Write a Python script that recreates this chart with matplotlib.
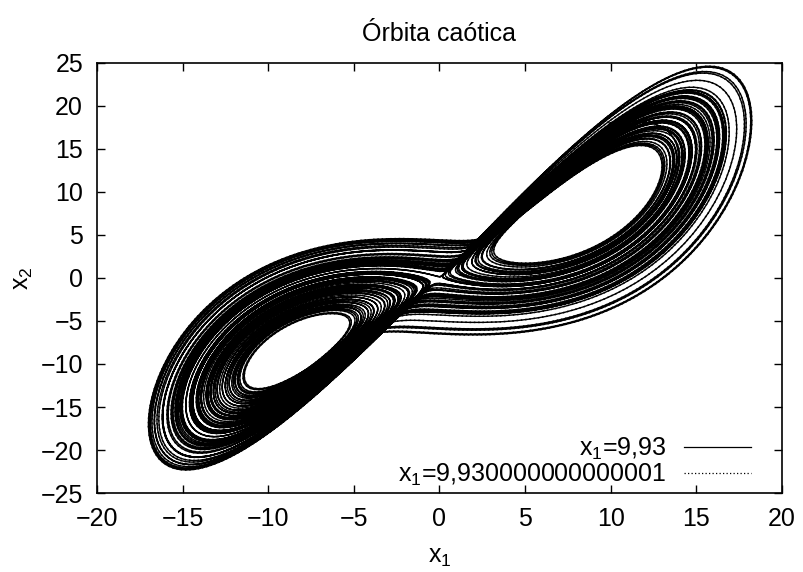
import numpy as np
import matplotlib
matplotlib.use("Agg")
import matplotlib.pyplot as plt

plt.rcParams['font.family'] = ['Liberation Sans', 'DejaVu Sans']
plt.rcParams['mathtext.fontset'] = 'custom'
plt.rcParams['mathtext.rm'] = 'Liberation Sans'
plt.rcParams['mathtext.it'] = 'Liberation Sans'

# Lorenz system parameters and initial states
sigma, rho, beta = 10.0, 28.0, 8.0 / 3.0
x1_starts = [9.93, 9.930000000000001]
x2_start, x3_start = 18.0, 24.0
legend_labels = [r'$\mathregular{x_1}$=9,93', r'$\mathregular{x_1}$=9,930000000000001']
t_end, dt = 100.0, 0.005

x_ticks = [-20, -15, -10, -5, 0, 5, 10, 15, 20]
y_ticks = [-25, -20, -15, -10, -5, 0, 5, 10, 15, 20, 25]


def lorenz(s):
    x, y, z = s
    return np.array([sigma * (y - x), x * (rho - z) - y, x * y - beta * z])


def integrate(s0):
    n = int(round(t_end / dt))
    out = np.empty((n + 1, 3))
    s = np.array(s0, dtype=float)
    out[0] = s
    for i in range(n):
        k1 = lorenz(s)
        k2 = lorenz(s + 0.5 * dt * k1)
        k3 = lorenz(s + 0.5 * dt * k2)
        k4 = lorenz(s + dt * k3)
        s = s + dt / 6.0 * (k1 + 2 * k2 + 2 * k3 + k4)
        out[i + 1] = s
    return out


fig = plt.figure(figsize=(8.04, 5.72), dpi=100)
ax = fig.add_axes([0.1206, 0.1381, 0.8520, 0.7518])

styles = ['-', (0, (1.0, 1.8))]
widths = [1.0, 1.1]
for x1, ls, lw, lab in zip(x1_starts, styles, widths, legend_labels):
    traj = integrate([x1, x2_start, x3_start])
    ax.plot(traj[:, 0], traj[:, 1], color='black', lw=lw, ls=ls, label=lab)

ax.set_xlim(-20, 20)
ax.set_ylim(-25, 25)
ax.set_xticks(x_ticks)
ax.set_yticks(y_ticks)
ax.set_xticklabels([str(v).replace('-', '\u2212') for v in x_ticks])
ax.set_yticklabels([str(v).replace('-', '\u2212') for v in y_ticks])
ax.tick_params(direction='in', top=True, right=True, length=6, width=1,
               labelsize=18, pad=10)
for sp in ax.spines.values():
    sp.set_linewidth(1.2)

ax.set_title('Órbita caótica', fontsize=18, pad=16)
ax.set_xlabel(r'$\mathregular{x_1}$', fontsize=18, labelpad=10)
ax.set_ylabel(r'$\mathregular{x_2}$', fontsize=18, labelpad=4)

leg = ax.legend(loc='lower right', frameon=False, markerfirst=False,
                fontsize=18, handlelength=2.7, handletextpad=0.7,
                borderaxespad=0.0, borderpad=0.0, labelspacing=0.0,
                bbox_to_anchor=(0.955, 0.012))
for t in leg.get_texts():
    t.set_ha('right')
for h in leg.get_lines():
    h.set_linewidth(0.9)

fig.savefig('out.png', dpi=100)
